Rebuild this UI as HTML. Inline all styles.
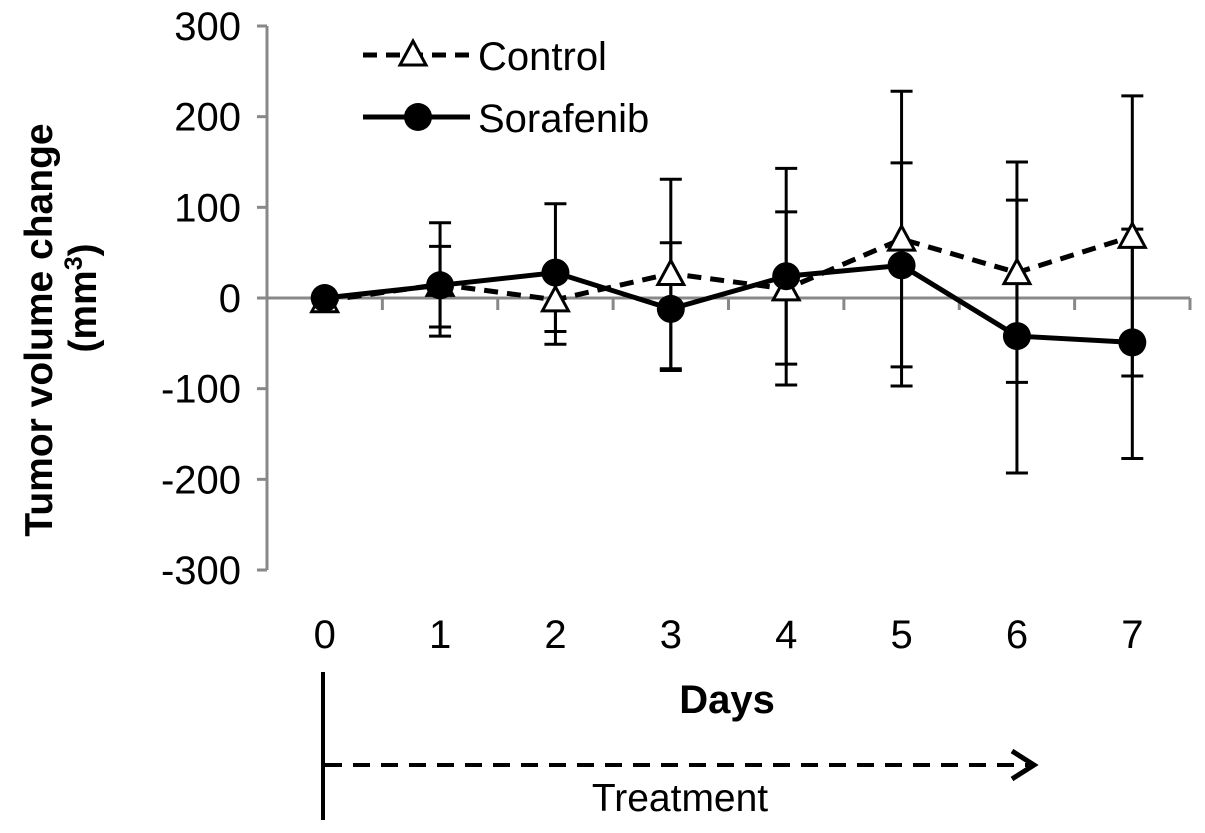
<!DOCTYPE html>
<html><head><meta charset="utf-8"><style>
html,body{margin:0;padding:0;background:#fff;}
svg{display:block;font-family:"Liberation Sans",Arial,sans-serif;}
</style></head><body>
<svg id="chart" width="1205" height="833" viewBox="0 0 1205 833" xmlns="http://www.w3.org/2000/svg">
<g id="axes"></g>
<g id="series"></g>
<g font-weight="bold" font-size="39" text-anchor="middle">
  <text transform="translate(52,330) rotate(-90)">Tumor volume change</text>
  <text transform="translate(96,298) rotate(-90)">(mm<tspan font-size="25" dy="-14">3</tspan><tspan dy="14">)</tspan></text>
</g>
<text x="727" y="713" font-size="40" font-weight="bold" text-anchor="middle">Days</text>
<g>
  <g>
    <line x1="363" y1="55" x2="470" y2="55" stroke="#000" stroke-width="5" stroke-dasharray="14,9"/>
    <polygon points="413,41 426,65 400,65" fill="#fff" stroke="#000" stroke-width="3"/>
    <text x="478" y="70" font-size="40">Control</text>
  </g>
  <g>
    <line x1="363" y1="117" x2="470" y2="117" stroke="#000" stroke-width="5"/>
    <circle cx="418" cy="117" r="14" fill="#000"/>
    <text x="478" y="132" font-size="40">Sorafenib</text>
  </g>
</g>
<g>
  <line x1="323" y1="672" x2="323" y2="820" stroke="#000" stroke-width="4"/>
  <line x1="325" y1="765" x2="1030" y2="765" stroke="#000" stroke-width="4" stroke-dasharray="17,11"/>
  <polyline points="1012,751 1034,765 1012,779" fill="none" stroke="#000" stroke-width="5"/>
  <text x="680" y="811" font-size="39" text-anchor="middle">Treatment</text>
</g>
</svg>
<script>
const days = ["0","1","2","3","4","5","6","7"];
const yTicks = [300,200,100,0,-100,-200,-300];
const controlMean = [-3,15,-2,27,10,65,28,68];
const controlHigh = [-3,57,33,131,95,228,150,223];
const controlLow = [-3,-32,-37,-78,-73,-97,-93,-86];
const sorafenibMean = [0,14,28,-12,24,36,-42,-49];
const sorafenibHigh = [0,83,104,61,143,149,108,76];
const sorafenibLow = [0,-42,-51,-80,-96,-76,-193,-177];

const NS = "http://www.w3.org/2000/svg";
const x0 = 267, x1 = 1190, yTop = 26, yBot = 570;
const step = (x1 - x0) / days.length;
function xs(i){ return x0 + step*(i+0.5); }
function ys(v){ return yTop + (300 - v) * (yBot - yTop) / 600; }
function mk(tag, attrs, parent){ const e=document.createElementNS(NS,tag); for(const k in attrs) e.setAttribute(k,attrs[k]); parent.appendChild(e); return e; }

const axes = document.getElementById('axes');
const yAxis = mk('line',{x1:x0,y1:yTop,x2:x0,y2:yBot,stroke:'#888','stroke-width':3},axes);


yTicks.forEach(t=>{
  mk('line',{x1:x0-10,y1:ys(t),x2:x0,y2:ys(t),stroke:'#888','stroke-width':3},axes);
  const lb = mk('text',{x:241,y:ys(t)+14,'font-size':40,'text-anchor':'end'},axes);
  lb.textContent = t;
  
  
});
const xAxis = mk('line',{x1:x0,y1:ys(0),x2:x1,y2:ys(0),stroke:'#888','stroke-width':3},axes);


for(let i=0;i<=days.length;i++){
  mk('line',{x1:x0+step*i,y1:ys(0),x2:x0+step*i,y2:ys(0)+12,stroke:'#888','stroke-width':3},axes);
}
days.forEach((d,i)=>{
  const lb = mk('text',{x:xs(i),y:648,'font-size':40,'text-anchor':'middle'},axes);
  lb.textContent = d;
  
  
});

const g = document.getElementById('series');
function errBars(hi, lo, name){
  hi.forEach((h,i)=>{
    const eg = mk('g',{},g);
    
    
    if (h === lo[i]) return;
    mk('line',{x1:xs(i),y1:ys(h),x2:xs(i),y2:ys(lo[i]),stroke:'#000','stroke-width':3},eg);
    mk('line',{x1:xs(i)-11,y1:ys(h),x2:xs(i)+11,y2:ys(h),stroke:'#000','stroke-width':3},eg);
    mk('line',{x1:xs(i)-11,y1:ys(lo[i]),x2:xs(i)+11,y2:ys(lo[i]),stroke:'#000','stroke-width':3},eg);
  });
}
errBars(controlHigh, controlLow, 'control-error-bar');
errBars(sorafenibHigh, sorafenibLow, 'sorafenib-error-bar');

const cLine = mk('polyline',{points:controlMean.map((v,i)=>xs(i)+','+ys(v)).join(' '),fill:'none',stroke:'#000','stroke-width':5,'stroke-dasharray':'14,9'},g);


const sLine = mk('polyline',{points:sorafenibMean.map((v,i)=>xs(i)+','+ys(v)).join(' '),fill:'none',stroke:'#000','stroke-width':5},g);



controlMean.forEach((v,i)=>{
  const cx=xs(i), cy=ys(v);
  const p = mk('polygon',{points:`${cx},${cy-13} ${cx+13},${cy+11} ${cx-13},${cy+11}`,fill:'#fff',stroke:'#000','stroke-width':3},g);
  
  
});
sorafenibMean.forEach((v,i)=>{
  const c = mk('circle',{cx:xs(i),cy:ys(v),r:14,fill:'#000'},g);
  
  
});
</script>
</body></html>
